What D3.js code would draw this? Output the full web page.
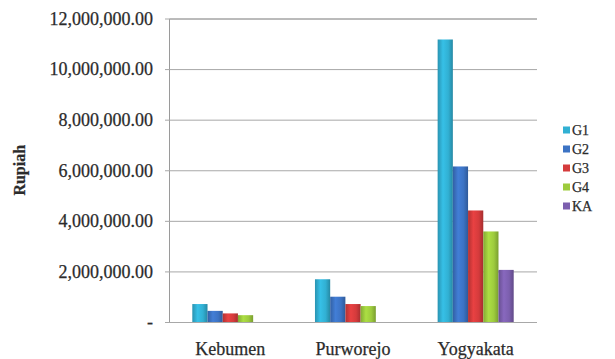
<!DOCTYPE html>
<html>
<head>
<meta charset="utf-8">
<script src="https://cdn.jsdelivr.net/npm/d3@7/dist/d3.min.js"></script>
<style>
  html, body { margin: 0; padding: 0; background: #fff; }
  svg { display: block; }
  svg text { font-family: "Liberation Serif", "Times New Roman", Times, serif !important; fill: #2b2b2b; stroke: #2b2b2b; stroke-width: 0.25px; }
</style>
</head>
<body>
<svg id="chart" width="615" height="359"></svg>
<script>
// Regions and cost groups
const categories = ["Kebumen", "Purworejo", "Yogyakata"];
const seriesNames = ["G1", "G2", "G3", "G4", "KA"];
const seriesColors = ["#31b0d3", "#3c73c4", "#d53b3c", "#9dcb3d", "#7c5fae"];

// Values in Rupiah, one array per group (order follows categories)
const G1 = [710000, 1690000, 11170000];
const G2 = [440000, 1000000, 6150000];
const G3 = [340000, 710000, 4410000];
const G4 = [270000, 630000, 3580000];
const KA = [0, 0, 2060000];
const seriesValues = [G1, G2, G3, G4, KA];

const yTicks = [0, 2000000, 4000000, 6000000, 8000000, 10000000, 12000000];
const yTitle = "Rupiah";

const svg = d3.select("#chart");
const plotLeft = 169, plotRight = 537, plotTop = 18.5, plotBottom = 322;

const x0 = d3.scaleBand().domain(categories).range([plotLeft, plotRight])
  .paddingInner(0.38).paddingOuter(0.19);
const x1 = d3.scaleBand().domain(seriesNames).range([0, x0.bandwidth()]);
const y = d3.scaleLinear().domain([0, 12000000]).range([plotBottom, plotTop]);

// Gradients giving each bar a rounded, lit look
const defs = svg.append("defs");
seriesColors.forEach((c, i) => {
  const g = defs.append("linearGradient").attr("id", "grad" + i)
    .attr("x1", "0").attr("x2", "1").attr("y1", "0").attr("y2", "0");
  const base = d3.color(c);
  g.append("stop").attr("offset", "0%").attr("stop-color", base.darker(0.5));
  g.append("stop").attr("offset", "35%").attr("stop-color", base.brighter(0.25));
  g.append("stop").attr("offset", "70%").attr("stop-color", base);
  g.append("stop").attr("offset", "100%").attr("stop-color", base.darker(0.7));
});

// Gridlines and value axis
const fmt = v => v === 0 ? "-" : d3.format(",.2f")(v);
const yAxis = d3.axisLeft(y).tickValues(yTicks).tickSize(-(plotRight - plotLeft)).tickPadding(16).tickFormat(fmt);
const ga = svg.append("g").attr("transform", `translate(${plotLeft},0)`).call(yAxis);
ga.attr("font-family", null);
ga.select(".domain").attr("stroke", "#9a9a9a");
ga.selectAll(".tick line").attr("stroke", "#a8a8a8").attr("x1", -4);
ga.selectAll(".tick text").attr("font-size", 18).attr("fill", "#2b2b2b");

// Bars
const groups = svg.append("g").selectAll("g").data(categories).join("g")
  .attr("transform", d => `translate(${x0(d)},0)`);
groups.selectAll("rect")
  .data((c, ci) => seriesNames.map((s, si) => ({ s, si, v: seriesValues[si][ci] })).filter(d => d.v > 0))
  .join("rect")
  .attr("x", d => x1(d.s))
  .attr("width", x1.bandwidth())
  .attr("y", d => y(d.v))
  .attr("height", d => y(0) - y(d.v))
  .attr("fill", d => `url(#grad${d.si})`);

// Category labels
svg.append("g").selectAll("text").data(categories).join("text")
  .attr("x", d => x0(d) + x0.bandwidth() / 2)
  .attr("y", 355)
  .attr("text-anchor", "middle")
  .attr("font-size", 18)
  .text(d => d);

// Axis title
svg.append("text")
  .attr("transform", `translate(25,${(plotTop + plotBottom) / 2}) rotate(-90)`)
  .attr("text-anchor", "middle")
  .attr("font-size", 16)
  .attr("font-weight", "bold")
  .text(yTitle);

// Legend
const lg = svg.append("g").selectAll("g").data(seriesNames).join("g")
  .attr("transform", (d, i) => `translate(563,${130 + i * 19})`);
lg.append("rect").attr("x", 0).attr("y", -3.5).attr("width", 7).attr("height", 7)
  .attr("fill", (d, i) => seriesColors[i]);
lg.append("text").attr("x", 9).attr("y", 5).attr("font-size", 14).text(d => d);
</script>
</body>
</html>
